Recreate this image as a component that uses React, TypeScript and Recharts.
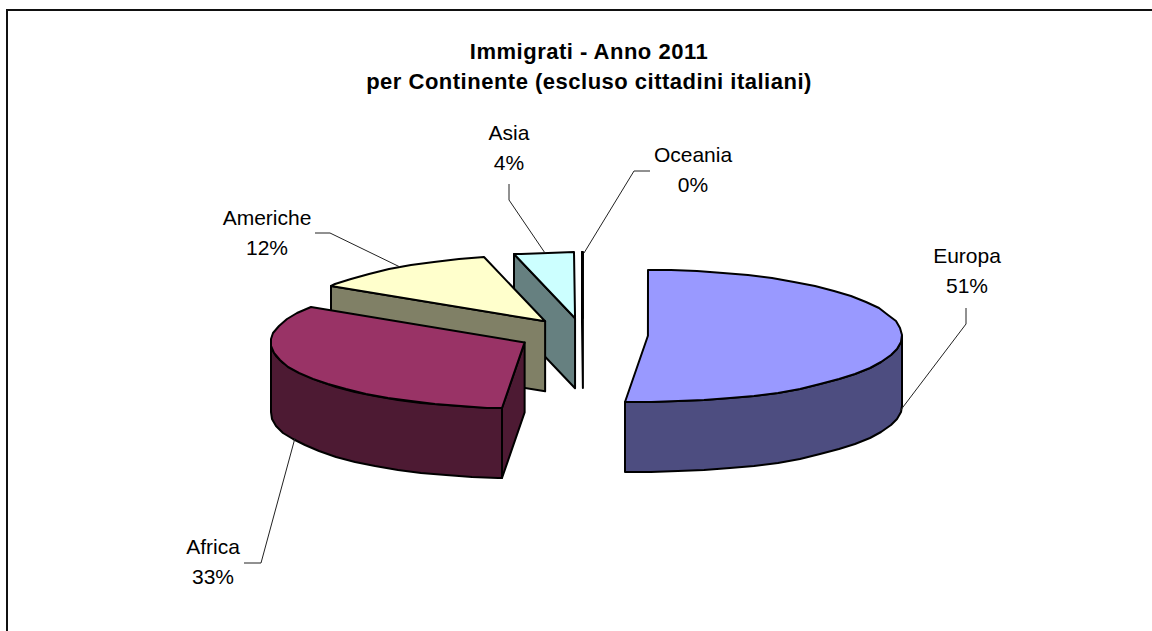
import React from 'react';
import { PieChart, Pie } from 'recharts';

const CONTINENTS = ['Oceania', 'Asia', 'Americhe', 'Africa', 'Europa'];
const SHARES = [0.05, 3.8, 12.1, 32.6, 51.45];
const TOP_COLORS = ['#660066', '#CCFFFF', '#FFFFCC', '#993366', '#9999FF'];
const SIDE_COLORS = ['#330033', '#668080', '#808066', '#4D1A33', '#4D4D80'];
const TITLE_LINES = ['Immigrati - Anno 2011', 'per Continente (escluso cittadini italiani)'];

const data = CONTINENTS.map((name, i) => ({
  name,
  value: SHARES[i],
  fill: TOP_COLORS[i],
  side: SIDE_COLORS[i],
}));
const total = SHARES.reduce((sum, v) => sum + v, 0);

// flattening of the pie, height of the walls and distance of the exploded slices
const TILT = 0.26;
const DEPTH = 70;
const EXPLODE = 65;

// where each label sits and how its leader line runs
const LABEL_LAYOUT: Record<string, { x: number; y: number; leader: string }> = {
  Oceania: { x: 693, y: 162, leader: '650,171 634,171 584,253' },
  Asia: { x: 509, y: 140, leader: '509,184 509,200 545,253' },
  Americhe: { x: 267, y: 225, leader: '315,233 330,233 400,267' },
  Africa: { x: 213, y: 554, leader: '244,563 261,563 295,438' },
  Europa: { x: 967, y: 263, leader: '966,308 966,324 900,411' },
};

const rad = (deg: number) => (deg * Math.PI) / 180;

const Slice3D = (props: any) => {
  const { cx, cy, outerRadius: r, startAngle, endAngle, fill, side } = props;
  const lo = Math.min(startAngle, endAngle);
  const hi = Math.max(startAngle, endAngle);
  const mid = rad((lo + hi) / 2);
  const ax = cx + EXPLODE * Math.cos(mid);
  const ay = cy - EXPLODE * TILT * Math.sin(mid);

  const pt = (deg: number, dz = 0): [number, number] => [
    Math.round(ax + r * Math.cos(rad(deg))),
    Math.round(ay - r * TILT * Math.sin(rad(deg)) + dz),
  ];
  const arc = (from: number, to: number, dz = 0) => {
    const out: [number, number][] = [];
    for (let a = from; a < to; a += 6) out.push(pt(a, dz));
    out.push(pt(to, dz));
    return out;
  };
  const path = (pts: [number, number][]) => pts.map((p) => p.join(',')).join(' ');
  const apex: [number, number] = [ax, ay];
  const apexLow: [number, number] = [ax, ay + DEPTH];

  const wallFrom = Math.max(lo, 180);
  const wallTo = Math.min(hi, 360);
  const edge = { stroke: '#000', strokeWidth: 2, strokeLinejoin: 'round' as const };

  return (
    <g>
      {/* only the cut that faces the viewer is drawn */}
      {Math.cos(rad(hi)) < 0 && (
        <polygon points={path([apex, pt(hi), pt(hi, DEPTH), apexLow])} fill={side} {...edge} />
      )}
      {wallFrom < wallTo && (
        <polygon
          points={path([...arc(wallFrom, wallTo), ...arc(wallFrom, wallTo, DEPTH).reverse()])}
          fill={side}
          {...edge}
        />
      )}
      <polygon points={path([apex, ...arc(lo, hi)])} fill={fill} {...edge} />
    </g>
  );
};

const renderLabel = (props: any) => {
  const layout = LABEL_LAYOUT[props.name];
  const pct = Math.round((props.value / total) * 100);
  const font = { fontFamily: 'Liberation Sans, Arial, sans-serif', fontSize: 21, fill: '#000' };
  return (
    <g>
      <polyline points={layout.leader} fill="none" stroke="#222" strokeWidth={1} />
      <text x={layout.x} y={layout.y} textAnchor="middle" {...font}>
        {props.name}
      </text>
      <text x={layout.x} y={layout.y + 30} textAnchor="middle" {...font}>
        {pct}%
      </text>
    </g>
  );
};

const titleFont = {
  fontFamily: 'Liberation Sans, Arial, sans-serif',
  fontWeight: 'bold',
  fontSize: 22,
  letterSpacing: 0.5,
};

export default function App() {
  return (
    <div
      style={{
        position: 'absolute',
        left: 0,
        top: 0,
        width: 1152,
        height: 631,
        background: '#fff',
        overflow: 'hidden',
      }}
    >
      <div
        style={{
          position: 'absolute',
          left: 6,
          top: 9,
          width: 1200,
          height: 700,
          borderTop: '2px solid #111',
          borderLeft: '2px solid #111',
        }}
      />
      <PieChart
        width={1152}
        height={631}
        margin={{ top: 0, right: 0, bottom: 0, left: 0 }}
        style={{ position: 'absolute', left: 0, top: 0 }}
      >
        <text x={589} y={59} textAnchor="middle" {...titleFont}>
          {TITLE_LINES[0]}
        </text>
        <text x={589} y={89} textAnchor="middle" {...titleFont}>
          {TITLE_LINES[1]}
        </text>
        <Pie
          data={data}
          dataKey="value"
          nameKey="name"
          cx={583}
          cy={335}
          innerRadius={0}
          outerRadius={254}
          startAngle={90}
          endAngle={450}
          stroke="none"
          shape={Slice3D}
          label={renderLabel}
          labelLine={false}
          isAnimationActive={false}
        />
      </PieChart>
    </div>
  );
}
